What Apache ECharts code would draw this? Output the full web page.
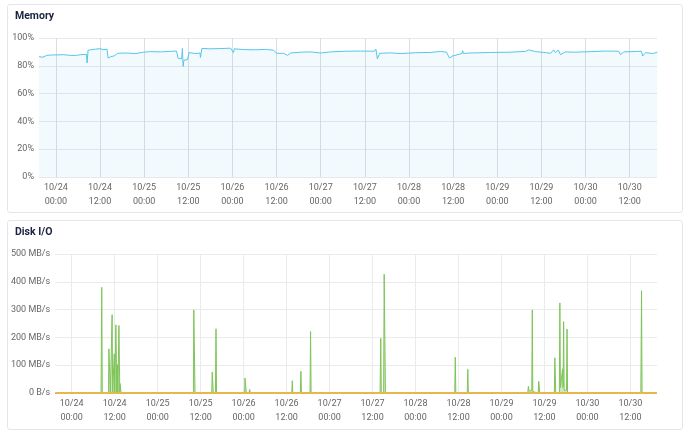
<!DOCTYPE html>
<html>
<head>
<meta charset="utf-8">
<script src="https://cdn.jsdelivr.net/npm/echarts@6/dist/echarts.min.js"></script>
<style>
  html, body { margin: 0; padding: 0; background: #fff; width: 690px; height: 436px; overflow: hidden; }
  .card { position: absolute; left: 7px; width: 674px; border: 1px solid #e3e7eb; border-radius: 3px; background: #fff; }
  .card h3 { position: absolute; left: 7px; top: 4px; margin: 0; font: bold 10.5px Roboto, sans-serif; color: #1b2440; }
  .chart { position: absolute; left: 0; top: 0; width: 100%; height: 100%; }
</style>
</head>
<body>
<div class="card" style="top:4px;height:207px;">
  <div id="memChart" class="chart"></div>
  <h3>Memory</h3>
</div>
<div class="card" style="top:220px;height:208px;">
  <div id="diskChart" class="chart"></div>
  <h3>Disk I/O</h3>
</div>
<script>
// 时间轴：以 10/24 00:00 为基准的小时偏移
const BASE = new Date(2023, 9, 24, 0, 0).getTime();
const HOUR = 3600 * 1000;
const axisMin = BASE - (4 + 35 / 60) * HOUR;   // 10/23 19:25
const axisMax = BASE + (163 + 25 / 60) * HOUR; // 10/30 19:25

// 内存使用率 (%)
const memHours = [-4.6, -3.5, -2.5, -1, 0, 2, 4, 4.5, 5.6, 6.7, 8.3, 8.5, 8.75, 9.4, 10.8, 12.1, 13, 13.5, 13.9, 14.2,
  14.9, 16, 16.8, 19, 21.7, 23.8, 25.7, 28.5, 31.2, 32.8, 33.2, 34.2, 34.4, 34.6, 34.8, 35.8, 36.2, 38, 39.2, 39.3,
  39.7, 42, 44.8, 47.5, 48.3, 48.5, 51.5, 54.3, 57, 59.2, 60, 61.9, 63, 63.8, 66.5, 69.2, 72, 74.7, 78.8, 82.8,
  86.6, 87, 87.4, 88, 91, 93.7, 97.8, 101.8, 104.6, 106.2, 107, 107.8, 110.4, 110.6, 110.8, 112.7, 118.2, 123.6, 127.7, 128.5,
  130.4, 133.1, 134.5, 135.3, 135.8, 136.6, 137.2, 138.5, 141.2, 145.3, 149.4, 153, 153.5, 154.4, 157.6, 159.2, 159.5, 160.3, 162.2, 163.5];
const memValues = [86.5, 86.2, 87.5, 87.8, 87.8, 88.0, 87.5, 86.8, 87.5, 88.0, 88.2, 82, 91.2, 91.5, 92, 92.3, 91.5, 92.3, 92, 85.6,
  86.5, 87.3, 89, 89.2, 88.8, 89.8, 90.2, 90, 90.4, 90.6, 85.5, 85, 92.5, 79.6, 84, 84.5, 89.5, 88.8, 89.2, 86,
  92.5, 92.2, 92.4, 92.7, 89.5, 92.2, 91.6, 91.5, 91.8, 91.2, 89.0, 89, 87.5, 89.2, 89.8, 90, 89.2, 90, 90.5, 90.6,
  90.5, 92, 85, 89.0, 89.3, 88.8, 89.4, 89.6, 90.3, 89.8, 85.6, 87, 88.9, 90.8, 88.9, 89.2, 89.6, 89.8, 90.4, 91.5,
  90.2, 89.5, 89, 91.5, 89.5, 91.3, 88, 90, 89.8, 90.2, 90.6, 90.5, 88, 90, 90.3, 90.5, 87, 89.5, 88.8, 89.8];

// 磁盘 I/O (MB/s)
const diskHours = [-4.6, 8.2, 8.4, 8.55, 10.3, 10.4, 10.7, 10.8, 11.15, 11.3, 11.45, 11.75, 11.9, 12.05, 12.2, 12.35, 12.55, 12.6,
  12.7, 12.8, 12.9, 13.05, 13.2, 13.35, 13.45, 13.5, 13.7, 13.8, 14.2, 14.4, 34.0, 34.1, 34.35, 34.45, 39.1, 39.25, 39.45, 39.55,
  40.15, 40.3, 40.45, 42.9, 43.0, 43.3, 43.4, 48.3, 48.4, 48.65, 48.75, 49.2, 49.3, 49.5, 49.7, 49.9, 61.45, 61.6, 61.75,
  63.85, 64.0, 64.15, 66.55, 66.7, 66.85, 75.1, 75.2, 75.3, 80.9, 81.0, 81.2, 82.4, 82.6, 82.7, 86.1, 86.3, 86.45, 87.1, 87.25, 87.5, 87.6,
  96.5, 96.6, 96.7, 106.95, 107.1, 107.25, 110.45, 110.6, 110.75, 127.35, 127.5, 127.7, 128.45, 128.6, 128.75, 129.0, 129.1,
  130.25, 130.4, 130.6, 130.7, 134.75, 134.9, 135.05, 135.15, 136.15, 136.3, 136.45, 136.9, 137.05, 137.2, 137.35, 137.5, 138.15, 138.3, 138.45,
  158.9, 159.0, 159.1, 159.25, 163.4];
const diskValues = [0, 0, 380, 0, 0, 159, 159, 0, 0, 282, 0, 0, 141, 0, 0, 245, 245, 0,
  0, 102, 0, 0, 243, 243, 0, 34, 34, 0, 5, 0, 0, 299, 299, 0, 0, 75, 75, 0,
  0, 231, 0, 0, 5, 5, 0, 0, 54, 54, 0, 0, 5, 0, 13, 0, 0, 44, 0,
  0, 78, 0, 0, 221, 0, 0, 5, 0, 0, 3, 0, 0, 3, 0, 0, 197, 0, 0, 427, 427, 0,
  0, 4, 0, 0, 129, 0, 0, 85, 0, 0, 24, 8, 8, 299, 5, 5, 0,
  0, 42, 42, 0, 0, 127, 127, 0, 0, 324, 20, 20, 87, 20, 257, 10, 10, 230, 0,
  0, 5, 368, 0, 0];
const diskBaseHours = [-4.6, 163.4];
const diskBaseValues = [0, 0];

const memTicks = [0, 20, 40, 60, 80, 100];
const diskTicks = [0, 100, 200, 300, 400, 500];

function toPairs(hours, values) {
  return hours.map((h, i) => [BASE + h * HOUR, values[i]]);
}

function pad(n) { return n < 10 ? '0' + n : '' + n; }

function timeLabel(val) {
  const d = new Date(val);
  return pad(d.getMonth() + 1) + '/' + pad(d.getDate()) + '\n' + pad(d.getHours()) + ':' + pad(d.getMinutes());
}

function xAxisCfg(splitColor) {
  return {
    type: 'time',
    min: axisMin,
    max: axisMax,
    // 13h 的近似间隔让时间轴落在 12 小时刻度上
    minInterval: 13 * HOUR,
    maxInterval: 13 * HOUR,
    axisLine: { show: false },
    axisTick: { show: false },
    splitLine: { show: true, showMinLine: false, showMaxLine: false, lineStyle: { color: splitColor, width: 1 } },
    axisLabel: {
      formatter: timeLabel,
      color: '#666',
      fontSize: 9,
      lineHeight: 14,
      fontFamily: 'Roboto',
      margin: 4,
      showMinLabel: false,
      showMaxLabel: false,
      hideOverlap: false
    }
  };
}

const memChart = echarts.init(document.getElementById('memChart'));
memChart.setOption({
  animation: false,
  grid: { left: 31, right: 25, top: 33, bottom: 35 },
  xAxis: xAxisCfg('#d8dfe4'),
  yAxis: {
    type: 'value',
    min: memTicks[0],
    max: memTicks[memTicks.length - 1],
    interval: 20,
    axisLine: { show: false },
    axisTick: { show: false },
    splitLine: { lineStyle: { color: '#e6e9ec' } },
    axisLabel: { formatter: '{value}%', color: '#666', fontSize: 9, fontFamily: 'Roboto', margin: 5 }
  },
  series: [{
    name: 'Memory',
    type: 'line',
    data: toPairs(memHours, memValues),
    showSymbol: false,
    lineStyle: { color: '#56c5ea', width: 1 },
    areaStyle: { color: 'rgba(91, 192, 235, 0.11)' },
    z: 1
  }]
});

const diskChart = echarts.init(document.getElementById('diskChart'));
diskChart.setOption({
  animation: false,
  grid: { left: 47, right: 25, top: 33, bottom: 36 },
  xAxis: xAxisCfg('#ebebeb'),
  yAxis: {
    type: 'value',
    min: diskTicks[0],
    max: diskTicks[diskTicks.length - 1],
    interval: 100,
    axisLine: { show: false },
    axisTick: { show: false },
    splitLine: { lineStyle: { color: '#ebebeb' } },
    axisLabel: {
      formatter: v => (v === 0 ? '0 B/s' : v + ' MB/s'),
      color: '#666', fontSize: 9, fontFamily: 'Roboto', margin: 5
    }
  },
  series: [{
    name: 'Read',
    type: 'line',
    data: toPairs(diskHours, diskValues),
    showSymbol: false,
    lineStyle: { color: '#7fc45a', width: 1 },
    areaStyle: { color: 'rgba(150, 210, 120, 0.7)' }
  }, {
    name: 'Write',
    type: 'line',
    data: toPairs(diskBaseHours, diskBaseValues),
    showSymbol: false,
    lineStyle: { color: '#e7b64c', width: 2 },
    z: 3
  }]
});
</script>
</body>
</html>
